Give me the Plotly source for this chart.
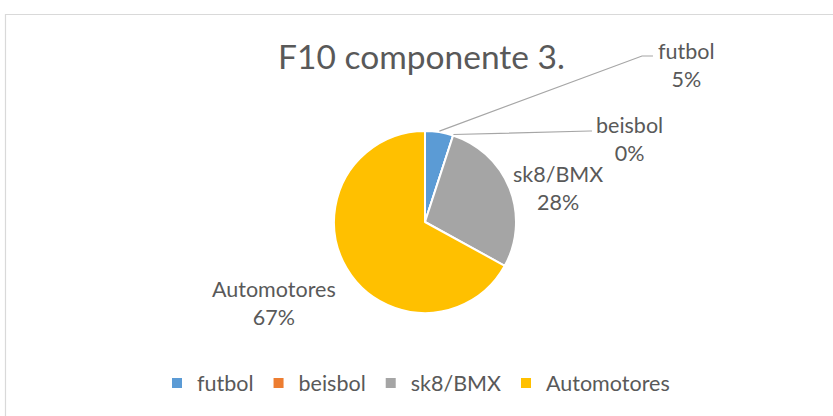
import math
import plotly.graph_objects as go

W, H = 833, 416

categories = ["futbol", "beisbol", "sk8/BMX", "Automotores"]
percent_values = [5, 0, 28, 67]
colors = ["#5B9BD5", "#ED7D31", "#A5A5A5", "#FFC000"]
title_text = "F10 componente 3."

FONT = "Lato"
TXT = "#595959"

# pie geometry (pixels)
cx, cy, r = 425, 222, 91


def px(x):
    return x / W


def py(y):
    return 1 - y / H


fig = go.Figure()
fig.add_trace(go.Pie(
    labels=categories,
    values=percent_values,
    sort=False,
    direction="clockwise",
    rotation=0,
    textinfo="none",
    hoverinfo="label+percent",
    marker=dict(colors=colors, line=dict(color="white", width=2)),
    domain=dict(x=[px(cx - r), px(cx + r)], y=[py(cy + r), py(cy - r)]),
    showlegend=True,
))

# label placements (pixel centres of the label blocks) and leader-line elbows
label_pos = {
    "futbol": (686, 65),
    "beisbol": (629, 139),
    "sk8/BMX": (558, 188),
    "Automotores": (274, 303),
}
elbows = {
    "futbol": [(642, 56), (653, 56)],
    "beisbol": [(590, 131), (592, 131)],
}

total = sum(percent_values)
cum = 0
annotations = []
shapes = []
for cat, v in zip(categories, percent_values):
    mid = (cum + v / 2) / total * 2 * math.pi
    cum += v
    pct = round(v / total * 100)
    lx, ly = label_pos[cat]
    annotations.append(dict(
        x=px(lx), y=py(ly), xref="paper", yref="paper",
        text=f"{cat}<br>{pct}%", showarrow=False,
        font=dict(family=FONT, size=21.5, color=TXT),
        align="center", xanchor="center", yanchor="middle",
    ))
    if cat in elbows:
        tx = cx + (r + 1) * math.sin(mid)
        ty = cy - (r + 1) * math.cos(mid)
        pts = [(tx, ty)] + elbows[cat]
        path = "M " + " L ".join(f"{px(a):.5f},{py(b):.5f}" for a, b in pts)
        shapes.append(dict(type="path", xref="paper", yref="paper", path=path,
                           line=dict(color="#A6A6A6", width=1.2)))

# chart-area border
shapes.append(dict(type="rect", xref="paper", yref="paper",
                   x0=px(5.5), x1=1.02, y0=-0.02, y1=py(14.5),
                   line=dict(color="#D9D9D9", width=1.2), layer="below"))

fig.update_layout(
    width=W, height=H,
    margin=dict(l=0, r=0, t=0, b=0),
    paper_bgcolor="white",
    plot_bgcolor="white",
    title=dict(text=title_text, x=px(421.5), xref="paper", xanchor="center",
               y=py(57), yref="container", yanchor="middle",
               font=dict(family=FONT, size=33.5, color=TXT)),
    legend=dict(orientation="h", x=px(416), xanchor="center",
                y=py(383), yanchor="middle",
                font=dict(family=FONT, size=21.5, color=TXT),
                itemwidth=30, tracegroupgap=0),
    annotations=annotations,
    shapes=shapes,
)

fig.write_html("out.html",
               config={"displayModeBar": False},
               post_script="document.body.style.margin='0';document.body.style.overflow='hidden';")
